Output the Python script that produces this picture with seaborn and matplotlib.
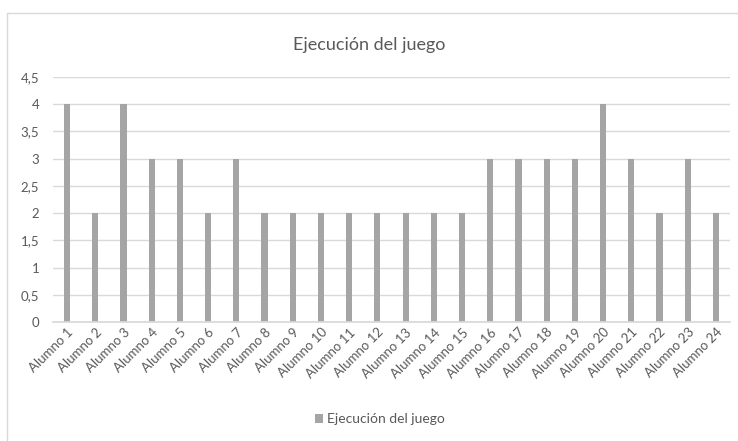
import matplotlib
matplotlib.use("Agg")
import matplotlib.pyplot as plt
import seaborn as sns
import pandas as pd
from matplotlib.lines import Line2D
from matplotlib.ticker import FuncFormatter, MultipleLocator

alumnos = [f"Alumno {i}" for i in range(1, 25)]
valores = [4, 2, 4, 3, 3, 2, 3, 2, 2, 2, 2, 2, 2, 2, 2, 3, 3, 3, 3, 4, 3, 2, 3, 2]
serie = "Ejecución del juego"
titulo = "Ejecución del juego"

df = pd.DataFrame({"Alumno": alumnos, "Valor": valores})

sns.set_theme(style="white")
plt.rcParams["font.family"] = ["Lato", "DejaVu Sans"]
txt = "#595959"

fig = plt.figure(figsize=(7.38, 4.41), dpi=100)
# chart frame: top and left edges
fig.lines.append(Line2D([7 / 738, 1.0], [1 - 13 / 441, 1 - 13 / 441], transform=fig.transFigure,
                        color="#d9d9d9", linewidth=1))
fig.lines.append(Line2D([7 / 738, 7 / 738], [0, 1 - 13 / 441], transform=fig.transFigure,
                        color="#d9d9d9", linewidth=1))

ax = fig.add_axes([53 / 738, 1 - 322 / 441, 677 / 738, 245 / 441])

sns.barplot(data=df, x="Alumno", y="Valor", color="#a5a5a5", saturation=1,
            width=0.22, ax=ax, label=serie, edgecolor="none")

ax.set_ylim(0, 4.5)
ax.set_xlim(-0.5, 23.5)
ax.yaxis.set_major_locator(MultipleLocator(0.5))
ax.yaxis.set_major_formatter(FuncFormatter(lambda v, p: (f"{v:g}").replace(".", ",")))
ax.grid(axis="y", color="#d9d9d9", linewidth=1)
ax.set_axisbelow(True)
for s in ["top", "right", "left"]:
    ax.spines[s].set_visible(False)
ax.spines["bottom"].set_color("#d9d9d9")
ax.set_xlabel("")
ax.set_ylabel("")
ax.tick_params(axis="y", length=0, labelsize=9.5, labelcolor=txt, pad=10)
ax.tick_params(axis="x", length=0, labelsize=9.5, labelcolor=txt, pad=3)
plt.setp(ax.get_xticklabels(), rotation=45, ha="right", rotation_mode="anchor")

fig.text(0.5, 1 - 45 / 441, titulo, ha="center", va="center", fontsize=13,
         color=txt, fontweight="normal")

leg = ax.legend(loc="center", bbox_to_anchor=(0.515, 1 - 419 / 441), bbox_transform=fig.transFigure,
                frameon=False, fontsize=10, handlelength=0.6, handleheight=0.6,
                handletextpad=0.3, labelcolor=txt)

fig.savefig("out.png", dpi=100)
